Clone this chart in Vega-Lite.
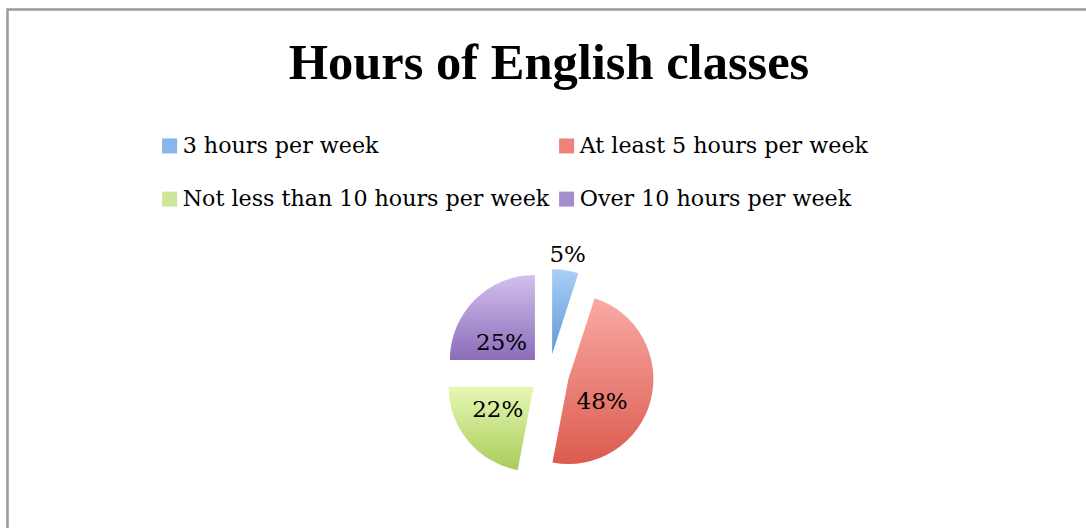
{
  "$schema": "https://vega.github.io/schema/vega-lite/v6.json",
  "autosize": "none",
  "width": 1082,
  "height": 522,
  "padding": {"left": 7.5, "top": 9.5, "right": -3.5, "bottom": -3.5},
  "background": "white",
  "view": {"stroke": "#9a9a9a", "strokeWidth": 2.5, "fill": "white"},
  "title": {
    "text": "Hours of English classes",
    "font": "Liberation Serif",
    "fontSize": 50.5,
    "fontWeight": "bold",
    "color": "black",
    "anchor": "middle",
    "frame": "group",
    "baseline": "alphabetic",
    "dx": 0.5,
    "offset": -120
  },
  "config": {
    "view": {"stroke": "#9a9a9a", "strokeWidth": 2.5}
  },
  "data": {
    "values": [
      {"category": "3 hours per week", "share": 0.05, "order": 1},
      {"category": "At least 5 hours per week", "share": 0.48, "order": 2},
      {"category": "Not less than 10 hours per week", "share": 0.22, "order": 3},
      {"category": "Over 10 hours per week", "share": 0.25, "order": 4}
    ]
  },
  "transform": [
    {"stack": "share", "groupby": [], "sort": [{"field": "order", "order": "ascending"}], "as": ["v0", "v1"]}
  ],
  "layer": [
    {
      "mark": {"type": "arc", "outerRadius": 0},
      "encoding": {
        "theta": {"field": "v0", "type": "quantitative", "scale": {"domain": [0, 1]}},
        "theta2": {"field": "v1"},
        "color": {
          "field": "category",
          "type": "nominal",
          "scale": {
            "domain": ["3 hours per week", "At least 5 hours per week", "Not less than 10 hours per week", "Over 10 hours per week"],
            "range": ["#88b6ea", "#ee837b", "#cde79a", "#a68dd0"]
          },
          "legend": {
            "title": null,
            "orient": "none",
            "legendX": 151,
            "legendY": 125,
            "direction": "horizontal",
            "columns": 2,
            "padding": 0,
            "rowPadding": 30.5,
            "columnPadding": 6,
            "symbolType": "square",
            "symbolSize": 225,
            "symbolStrokeWidth": 0,
            "symbolOpacity": 1,
            "labelFont": "DejaVu Serif",
            "labelFontSize": 22.2,
            "labelColor": "black",
            "labelLimit": 0,
            "labelOffset": 2
          }
        }
      }
    },
    {
      "transform": [{"filter": {"field": "category", "equal": "3 hours per week"}}],
      "mark": {"type": "arc", "outerRadius": 85, "xOffset": 3.6, "yOffset": 83.7,
        "fill": {"gradient": "linear", "x1": 0, "y1": 0, "x2": 0, "y2": 1,
          "stops": [{"offset": 0, "color": "#abcff7"}, {"offset": 1, "color": "#5e98d7"}]}},
      "encoding": {
        "theta": {"field": "v0", "type": "quantitative"},
        "theta2": {"field": "v1"}
      }
    },
    {
      "transform": [{"filter": {"field": "category", "equal": "At least 5 hours per week"}}],
      "mark": {"type": "arc", "outerRadius": 85, "xOffset": 19.9, "yOffset": 108.5,
        "fill": {"gradient": "linear", "x1": 0, "y1": 0, "x2": 0, "y2": 1,
          "stops": [{"offset": 0, "color": "#f9aaa5"}, {"offset": 1, "color": "#dc5b4f"}]}},
      "encoding": {
        "theta": {"field": "v0", "type": "quantitative"},
        "theta2": {"field": "v1"}
      }
    },
    {
      "transform": [{"filter": {"field": "category", "equal": "Not less than 10 hours per week"}}],
      "mark": {"type": "arc", "outerRadius": 85, "xOffset": -14.9, "yOffset": 116.2,
        "fill": {"gradient": "linear", "x1": 0, "y1": 0, "x2": 0, "y2": 1,
          "stops": [{"offset": 0, "color": "#e6f8b4"}, {"offset": 1, "color": "#a9cc5a"}]}},
      "encoding": {
        "theta": {"field": "v0", "type": "quantitative"},
        "theta2": {"field": "v1"}
      }
    },
    {
      "transform": [{"filter": {"field": "category", "equal": "Over 10 hours per week"}}],
      "mark": {"type": "arc", "outerRadius": 85, "xOffset": -13.6, "yOffset": 89.4,
        "fill": {"gradient": "linear", "x1": 0, "y1": 0, "x2": 0, "y2": 1,
          "stops": [{"offset": 0, "color": "#d3c0ee"}, {"offset": 1, "color": "#8a6cb9"}]}},
      "encoding": {
        "theta": {"field": "v0", "type": "quantitative"},
        "theta2": {"field": "v1"}
      }
    },
    {
      "transform": [{"filter": {"field": "category", "equal": "3 hours per week"}}],
      "mark": {"type": "text", "radius": 100, "thetaOffset": 0.157, "xOffset": 3.6, "yOffset": 83.7, "font": "DejaVu Serif", "fontSize": 23, "color": "black"},
      "encoding": {
        "theta": {"field": "v0", "type": "quantitative"},
        "text": {"field": "share", "type": "quantitative", "format": ".0%"}
      }
    },
    {
      "transform": [{"filter": {"field": "category", "equal": "At least 5 hours per week"}}],
      "mark": {"type": "text", "radius": 40, "thetaOffset": 1.508, "xOffset": 19.9, "yOffset": 108.5, "dx": -5, "dy": 13, "font": "DejaVu Serif", "fontSize": 23, "color": "black"},
      "encoding": {
        "theta": {"field": "v0", "type": "quantitative"},
        "text": {"field": "share", "type": "quantitative", "format": ".0%"}
      }
    },
    {
      "transform": [{"filter": {"field": "category", "equal": "Not less than 10 hours per week"}}],
      "mark": {"type": "text", "radius": 40, "thetaOffset": 0.691, "xOffset": -14.9, "yOffset": 116.2, "dx": -5, "dy": -2, "font": "DejaVu Serif", "fontSize": 23, "color": "black"},
      "encoding": {
        "theta": {"field": "v0", "type": "quantitative"},
        "text": {"field": "share", "type": "quantitative", "format": ".0%"}
      }
    },
    {
      "transform": [{"filter": {"field": "category", "equal": "Over 10 hours per week"}}],
      "mark": {"type": "text", "radius": 40, "thetaOffset": 0.785, "xOffset": -13.6, "yOffset": 89.4, "dx": -5, "dy": 11, "font": "DejaVu Serif", "fontSize": 23, "color": "black"},
      "encoding": {
        "theta": {"field": "v0", "type": "quantitative"},
        "text": {"field": "share", "type": "quantitative", "format": ".0%"}
      }
    }
  ]
}
